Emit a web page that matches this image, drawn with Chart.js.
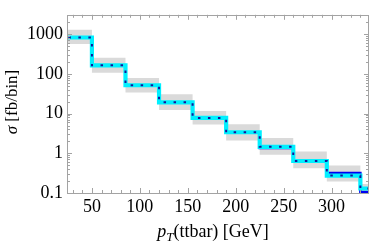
<!DOCTYPE html>
<html>
<head>
<meta charset="utf-8">
<script src="https://cdn.jsdelivr.net/npm/chart.js@4"></script>
<style>
  html, body { margin: 0; padding: 0; background: #fff; }
  #wrap { width: 374px; height: 249px; }
</style>
</head>
<body>
<div id="wrap"><canvas id="myChart" width="374" height="249"></canvas></div>
<script>
// bin edges of pT(ttbar) in GeV
const edges = [15, 50, 85, 120, 155, 190, 225, 260, 295, 330, 365];
// sigma per bin [fb/bin]
const blueVals = [830, 165, 52, 19.3, 7.8, 3.4, 1.37, 0.64, 0.32, 0.106];
const cyanVals = [830, 165, 52, 19.3, 7.8, 3.4, 1.46, 0.64, 0.275, 0.13];
const dotVals = [830, 165, 52, 19.3, 7.8, 3.4, 1.46, 0.64, 0.275, 0.13];
// grey uncertainty band
const bandHigh = [1300, 257, 79, 31, 11.7, 5.4, 2.45, 1.11, 0.49, 0.168];
const bandLow = [570, 107, 34, 12.4, 5.3, 2.1, 0.92, 0.42, 0.195, 0.06];
// tick labels
const xTicks = [50, 100, 150, 200, 250, 300];
const yTicks = [0.1, 1, 10, 100, 1000];

const serif = "'Liberation Serif', 'DejaVu Serif', serif";
const frameColor = '#a3a3a3';

// point i sits on the left edge of bin i, one extra point closes the last bin
function stepPoints(vals) {
    const pts = vals.map((v, i) => ({ x: edges[i], y: v }));
    pts.push({ x: edges[edges.length - 1], y: vals[vals.length - 1] });
    return pts;
}

function fmt(v) {
    if (v === 0.1) return '0.1';
    return String(v);
}

// frame + inward ticks like the original
const framePlugin = {
    id: 'frame',
    afterDatasetsDraw(chart) {
        const { ctx, chartArea: a, scales } = chart;
        const xs = scales.x, ys = scales.y;
        ctx.save();
        ctx.strokeStyle = frameColor;
        ctx.lineWidth = 1;
        ctx.strokeRect(Math.round(a.left) + 0.5, Math.round(a.top) + 0.5,
            Math.round(a.right - a.left) - 1, Math.round(a.bottom - a.top));

        ctx.beginPath();
        for (let v = 30; v <= xs.max; v += 10) {
            const px = Math.round(xs.getPixelForValue(v)) + 0.5;
            const len = v % 50 === 0 ? 5 : 3;
            ctx.moveTo(px, a.bottom); ctx.lineTo(px, a.bottom - len);
            ctx.moveTo(px, a.top); ctx.lineTo(px, a.top + len);
        }
        for (let d = -1; d <= 3; d++) {
            for (let m = 1; m <= 9; m++) {
                const v = m * Math.pow(10, d);
                if (v < ys.min || v > ys.max) continue;
                const py = Math.round(ys.getPixelForValue(v)) + 0.5;
                const len = m === 1 ? 5 : 3;
                ctx.moveTo(a.left, py); ctx.lineTo(a.left + len, py);
                ctx.moveTo(a.right, py); ctx.lineTo(a.right - len, py);
            }
        }
        ctx.stroke();
        ctx.restore();
    },
    afterDraw(chart) {
        const { ctx, chartArea: a } = chart;
        ctx.save();
        ctx.fillStyle = '#000';
        ctx.textBaseline = 'alphabetic';
        // x title: p_T(ttbar) [GeV]
        const parts = [
            { t: 'p', f: 'italic 18px ' + serif, dy: 0 },
            { t: 'T', f: 'italic 13px ' + serif, dy: 4 },
            { t: '(ttbar) [GeV]', f: '18px ' + serif, dy: 0 }
        ];
        let w = 0;
        parts.forEach(p => { ctx.font = p.f; w += ctx.measureText(p.t).width; });
        let x = (a.left + a.right) / 2 - w / 2 - 5;
        const base = 237;
        parts.forEach(p => {
            ctx.font = p.f;
            ctx.fillText(p.t, x, base + p.dy);
            x += ctx.measureText(p.t).width;
        });
        // y title: sigma [fb/bin]
        ctx.translate(17, 102);
        ctx.rotate(-Math.PI / 2);
        const yparts = [
            { t: 'σ', f: 'italic 17px ' + serif },
            { t: ' [fb/bin]', f: '17px ' + serif }
        ];
        w = 0;
        yparts.forEach(p => { ctx.font = p.f; w += ctx.measureText(p.t).width; });
        x = -w / 2;
        yparts.forEach(p => {
            ctx.font = p.f;
            ctx.fillText(p.t, x, 0);
            x += ctx.measureText(p.t).width;
        });
        ctx.restore();
    }
};

const ctx = document.getElementById('myChart').getContext('2d');
new Chart(ctx, {
    type: 'line',
    data: {
        datasets: [
            {
                label: 'dotted',
                data: stepPoints(dotVals),
                stepped: 'before',
                borderColor: '#14149a',
                borderWidth: 2,
                borderDash: [2.5, 7.5],
                pointRadius: 0,
                fill: false,
                clip: 0,
                order: 0
            },
            {
                label: 'cyan',
                data: stepPoints(cyanVals),
                stepped: 'before',
                borderColor: '#00f0ff',
                borderWidth: 4.2,
                pointRadius: 0,
                fill: false,
                clip: 0,
                order: 1
            },
            {
                label: 'blue',
                data: stepPoints(blueVals),
                stepped: 'before',
                borderColor: '#0000f0',
                borderWidth: 2.5,
                pointRadius: 0,
                fill: false,
                clip: 0,
                order: 2
            },
            {
                label: 'bandHigh',
                data: stepPoints(bandHigh),
                stepped: 'before',
                borderWidth: 0,
                borderColor: 'rgba(0,0,0,0)',
                backgroundColor: '#dadada',
                pointRadius: 0,
                fill: '+1',
                clip: 0,
                order: 3
            },
            {
                label: 'bandLow',
                data: stepPoints(bandLow),
                stepped: 'before',
                borderWidth: 0,
                borderColor: 'rgba(0,0,0,0)',
                pointRadius: 0,
                fill: false,
                clip: 0,
                order: 4
            }
        ]
    },
    options: {
        responsive: false,
        animation: false,
        devicePixelRatio: 1,
        layout: { padding: { top: 6, right: 5, left: 0, bottom: 0 } },
        plugins: {
            legend: { display: false },
            tooltip: { enabled: false },
            title: { display: false }
        },
        scales: {
            x: {
                type: 'linear',
                min: 24,
                max: 339,
                grid: { display: false, drawTicks: false },
                border: { display: false },
                afterBuildTicks: scale => { scale.ticks = xTicks.map(v => ({ value: v })); },
                afterFit: scale => { scale.height = 56; },
                ticks: {
                    autoSkip: false,
                    maxRotation: 0,
                    padding: 3,
                    color: '#000',
                    font: { family: serif, size: 18 },
                    callback: v => String(v)
                }
            },
            y: {
                type: 'logarithmic',
                min: 0.1,
                max: 3100,
                grid: { display: false, drawTicks: false },
                border: { display: false },
                afterBuildTicks: scale => { scale.ticks = yTicks.map(v => ({ value: v })); },
                afterFit: scale => { scale.width = 67; },
                ticks: {
                    autoSkip: false,
                    padding: 4,
                    color: '#000',
                    font: { family: serif, size: 18 },
                    callback: v => fmt(v)
                }
            }
        }
    },
    plugins: [framePlugin]
});
</script>
</body>
</html>
